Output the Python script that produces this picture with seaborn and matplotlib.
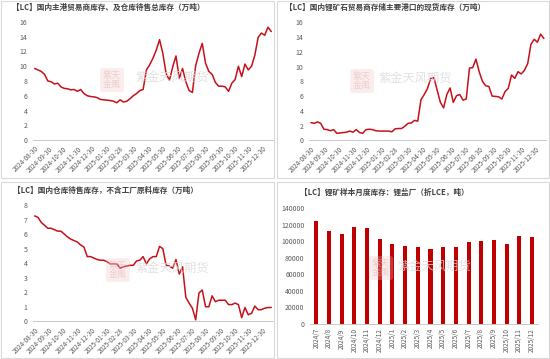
import numpy as np
import pandas as pd
import matplotlib
matplotlib.use("Agg")
import matplotlib.pyplot as plt
from matplotlib.patches import Rectangle, FancyBboxPatch
import seaborn as sns

# ---------------- data ----------------
start_date = "2024-08-30"
n_weeks = 73

total_stock = [9.7, 9.5, 9.3, 8.9, 8.0, 7.9, 7.6, 7.7, 7.2, 7.0,
               6.95, 6.8, 6.85, 6.6, 6.85, 6.3, 6.0, 5.9, 5.85, 5.75,
               5.5, 5.45, 5.4, 5.35, 5.25, 5.05, 5.45, 5.15, 5.25, 5.6,
               6.0, 6.3, 6.7, 6.85, 9.5, 10.2, 11.1, 12.2, 13.6, 11.75,
               9.0, 8.1, 9.9, 11.4, 8.35, 9.7, 7.9, 6.7, 6.45, 10.1,
               11.75, 13.1, 10.4, 9.3, 8.9, 7.8, 7.3, 7.3, 7.2, 6.6,
               7.7, 8.2, 10.0, 8.6, 10.3, 9.5, 10.0, 11.5, 13.9, 14.5,
               14.2, 15.3, 14.7]

port_stock = [2.4, 2.3, 2.5, 2.3, 1.5, 1.45, 1.3, 1.45, 0.95, 1.0,
              1.05, 1.1, 1.25, 1.1, 1.45, 1.05, 0.95, 1.45, 1.5, 1.45,
              1.3, 1.25, 1.25, 1.25, 1.25, 1.15, 1.55, 1.6, 1.6, 1.9,
              2.3, 2.35, 2.7, 2.6, 5.5, 6.2, 7.0, 8.4, 8.5, 6.8,
              5.15, 4.4, 6.2, 7.1, 5.15, 6.05, 6.2, 5.45, 5.6, 9.8,
              9.85, 11.0, 9.3, 8.0, 7.4, 7.3, 6.0, 5.95, 5.9, 5.6,
              6.6, 7.05, 8.85, 8.4, 9.3, 9.0, 9.5, 10.4, 13.0, 13.7,
              13.3, 14.4, 13.8]

warehouse_stock = [7.25, 7.15, 6.8, 6.6, 6.4, 6.4, 6.3, 6.2, 6.2, 6.0,
                   5.8, 5.65, 5.55, 5.45, 5.25, 5.1, 4.45, 4.45, 4.35, 4.25,
                   4.2, 4.2, 4.1, 3.95, 3.95, 3.95, 3.65, 3.75, 3.8, 3.85,
                   3.85, 4.15, 4.2, 4.45, 3.95, 4.3, 4.45, 4.45, 5.15, 5.0,
                   3.85, 3.8, 3.65, 4.25, 3.25, 3.75, 1.65, 1.25, 0.9, 0.1,
                   1.95, 2.15, 1.0, 1.0, 1.75, 1.35, 1.45, 1.45, 1.45, 1.15,
                   1.15, 1.25, 1.15, 0.25, 0.95, 0.45, 0.55, 1.05, 0.8, 0.8,
                   0.9, 0.95, 0.95]

month_labels = ["2024/7", "2024/8", "2024/9", "2024/10", "2024/11", "2024/12",
                "2025/1", "2025/2", "2025/3", "2025/4", "2025/5", "2025/6",
                "2025/7", "2025/8", "2025/9", "2025/10", "2025/11", "2025/12"]
smelter_stock = [125000, 113000, 109000, 117500, 116000, 103000,
                 97000, 94500, 93000, 91000, 93500, 93000,
                 99500, 100500, 101500, 97000, 106500, 105500]

date_ticks = ["2024-08-30", "2024-09-30", "2024-10-30", "2024-11-30",
              "2024-12-30", "2025-01-30", "2025-02-28", "2025-03-30",
              "2025-04-30", "2025-05-30", "2025-06-30", "2025-07-30",
              "2025-08-30", "2025-09-30", "2025-10-30", "2025-11-30",
              "2025-12-30"]

titles = ["【LC】国内主港贸易商库存、及仓库待售总库存（万吨）",
          "【LC】国内锂矿石贸易商存储主要港口的现货库存（万吨）",
          "【LC】国内仓库待售库存，不含工厂原料库存（万吨）",
          "【LC】锂矿样本月度库存：锂盐厂（折LCE，吨）"]

# ---------------- style ----------------
sns.set_style("white")
plt.rcParams["font.family"] = ["Noto Sans CJK SC", "DejaVu Sans"]
plt.rcParams["axes.unicode_minus"] = False

LINE_RED = "#C8101A"
BAR_RED = "#C00000"
TICK_GRAY = "#595959"
AXIS_GRAY = "#BFBFBF"

W, H = 550, 359
fig = plt.figure(figsize=(W / 100, H / 100), dpi=100)


def rect(l, t, r, b):
    return [l / W, 1 - b / H, (r - l) / W, (b - t) / H]


def frame(l, t, r, b):
    fig.patches.append(Rectangle((l / W, 1 - b / H), (r - l) / W, (b - t) / H,
                                 transform=fig.transFigure, fill=False,
                                 edgecolor="#D9D9D9", lw=0.8, zorder=0))


def watermark(lx, ly, tx, ty):
    box = FancyBboxPatch(((lx - 12) / W, 1 - (ly + 12) / H), 24 / W, 24 / H,
                         boxstyle="round,pad=0.0,rounding_size=0.006",
                         transform=fig.transFigure, facecolor="#EBC0C0",
                         edgecolor="none", alpha=0.28, zorder=0)
    fig.patches.append(box)
    fig.text(lx / W, 1 - ly / H, "紫天\n金風", fontsize=6.5, color="#E8B8B8",
             ha="center", va="center", linespacing=0.95, zorder=0, alpha=0.6)
    fig.text(tx / W, 1 - ty / H, "紫金天风期货", fontsize=8.8, color="#DADADA",
             ha="left", va="center", zorder=0, alpha=0.8)


dates = pd.date_range(start_date, periods=n_weeks, freq="7D")
t0 = pd.Timestamp(start_date)
tick_dates = pd.to_datetime(date_ticks)


def style_line_axis(ax, ymax, ystep, left_pad, right_pad):
    ax.set_xlim(t0 - pd.Timedelta(days=left_pad), t0 + pd.Timedelta(days=right_pad))
    ax.set_ylim(0, ymax)
    ax.set_yticks(np.arange(0, ymax + 0.001, ystep))
    ax.set_xticks(tick_dates)
    ax.set_xticklabels(date_ticks, rotation=45, ha="right", rotation_mode="anchor")
    for s in ["top", "right", "left"]:
        ax.spines[s].set_visible(False)
    ax.spines["bottom"].set_color(AXIS_GRAY)
    ax.spines["bottom"].set_linewidth(0.6)
    ax.tick_params(axis="x", length=2.0, width=0.5, color=AXIS_GRAY,
                   labelsize=4.6, labelcolor=TICK_GRAY, pad=1.5)
    ax.tick_params(axis="y", length=0, labelsize=5.0, labelcolor=TICK_GRAY, pad=4)
    ax.set_xlabel("")
    ax.set_ylabel("")
    ax.patch.set_alpha(0)
    ax.grid(False)


# panel frames
frame(1, 1, 274, 178)
frame(277, 1, 549, 178)
frame(1, 182, 274, 358)
frame(277, 182, 549, 358)

# watermarks
watermark(112, 80, 135, 77)
watermark(362, 81, 378, 78)
watermark(118, 270, 135, 268)
watermark(381, 268, 397, 266)

# titles
title_pos = [(12, 7.5), (285, 7.5), (13, 190.5), (300, 192.5)]
for (x, y), t in zip(title_pos, titles):
    fig.text(x / W, 1 - y / H, t, fontsize=5.5, fontweight="bold",
             color="#404040", ha="left", va="center")

# top-left: total inventory
ax1 = fig.add_axes(rect(33, 22, 273, 140))
sns.lineplot(x=dates, y=total_stock, ax=ax1, color=LINE_RED, lw=1.1)
style_line_axis(ax1, 16, 2, 3.6, 507.7)

# top-right: port inventory
ax2 = fig.add_axes(rect(309, 22.3, 546, 140.3))
sns.lineplot(x=dates, y=port_stock, ax=ax2, color=LINE_RED, lw=1.1)
style_line_axis(ax2, 16, 2, 4.3, 508.6)

# bottom-left: warehouse inventory
ax3 = fig.add_axes(rect(33, 205, 273, 321.3))
sns.lineplot(x=dates, y=warehouse_stock, ax=ax3, color=LINE_RED, lw=1.1)
style_line_axis(ax3, 8, 1, 3.6, 507.7)

# bottom-right: smelter monthly inventory
ax4 = fig.add_axes(rect(310, 208.3, 538.3, 324))
df_bar = pd.DataFrame({"month": month_labels, "stock": smelter_stock})
sns.barplot(data=df_bar, x="month", y="stock", ax=ax4, color=BAR_RED,
            saturation=1, width=0.32, linewidth=0)
ax4.set_xlim(-0.5, len(month_labels) - 0.5)
ax4.set_ylim(0, 140000)
ax4.set_yticks(np.arange(0, 140001, 20000))
ax4.set_xticks(np.arange(len(month_labels)))
ax4.set_xticklabels(month_labels, rotation=90)
ax4.set_xticks(np.arange(-0.5, len(month_labels)), minor=True)
for s in ["top", "right", "left"]:
    ax4.spines[s].set_visible(False)
ax4.spines["bottom"].set_color(AXIS_GRAY)
ax4.spines["bottom"].set_linewidth(0.6)
ax4.tick_params(axis="x", which="major", length=0, labelsize=4.6,
                labelcolor=TICK_GRAY, pad=3)
ax4.tick_params(axis="x", which="minor", length=2.5, width=0.5, color=AXIS_GRAY)
ax4.tick_params(axis="y", length=0, labelsize=5.0, labelcolor=TICK_GRAY, pad=4)
ax4.set_xlabel("")
ax4.set_ylabel("")
ax4.patch.set_alpha(0)

fig.savefig("out.png", dpi=100, facecolor="white")
